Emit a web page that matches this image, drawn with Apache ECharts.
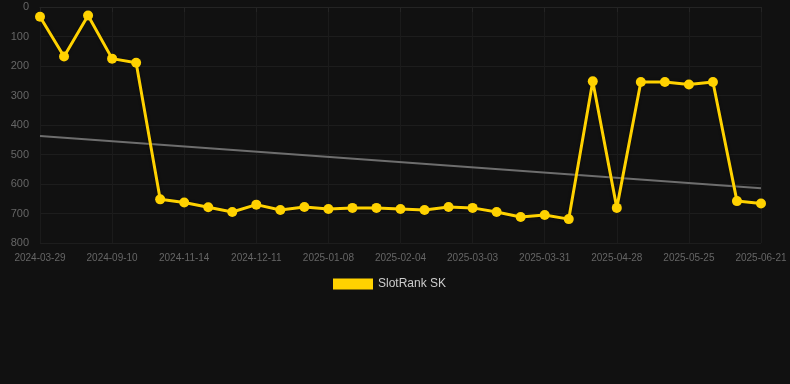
<!DOCTYPE html>
<html>
<head>
<meta charset="utf-8">
<script src="https://cdn.jsdelivr.net/npm/echarts@6/dist/echarts.min.js"></script>
<style>
  html, body { margin: 0; padding: 0; background: #111111; }
  #chart { width: 790px; height: 384px; }
</style>
</head>
<body>
<div id="chart"></div>
<script>
const dates = [
  '2024-03-29', '2024-05-24', '2024-07-18', '2024-09-10', '2024-10-02', '2024-10-23',
  '2024-11-14', '2024-11-23', '2024-12-02', '2024-12-11', '2024-12-20', '2024-12-30',
  '2025-01-08', '2025-01-17', '2025-01-26', '2025-02-04', '2025-02-13', '2025-02-22',
  '2025-03-03', '2025-03-12', '2025-03-21', '2025-03-31', '2025-04-09', '2025-04-19',
  '2025-04-28', '2025-05-07', '2025-05-16', '2025-05-25', '2025-06-03', '2025-06-12',
  '2025-06-21'
]
const ranks = [
  33, 168, 29, 175, 189, 652, 663, 679, 695, 670, 688, 678,
  685, 681, 681, 685, 688, 678, 681, 695, 712, 705, 719, 252,
  681, 254, 254, 263, 254, 658, 666
]
// trend line end points (first and last date)
const trendEnds = [437, 614]
const yTicks = { min: 0, max: 800, interval: 100 }

const chart = echarts.init(document.getElementById('chart'))
chart.setOption({
  backgroundColor: '#111111',
  animation: false,
  grid: { left: 40, right: 29, top: 7, bottom: 141 },
  legend: {
    data: ['SlotRank SK'],
    top: 273,
    left: 328,
    icon: 'rect',
    itemWidth: 40,
    itemHeight: 11,
    textStyle: { color: '#cccccc', fontSize: 12, fontFamily: 'Arial, Liberation Sans, sans-serif' }
  },
  xAxis: {
    type: 'category',
    data: dates,
    boundaryGap: false,
    axisLine: { lineStyle: { color: '#242424' } },
    axisTick: { show: true, interval: 2, length: 5, lineStyle: { color: '#242424' } },
    axisLabel: {
      interval: 2,
      color: '#666666',
      fontSize: 10,
      margin: 10,
      fontFamily: 'Arial, Liberation Sans, sans-serif'
    },
    splitLine: { show: true, interval: 2, lineStyle: { color: '#1b1b1b' } }
  },
  yAxis: {
    type: 'value',
    inverse: true,
    min: yTicks.min,
    max: yTicks.max,
    interval: yTicks.interval,
    axisLine: { show: false },
    axisTick: { show: false },
    axisLabel: {
      color: '#666666',
      fontSize: 11,
      margin: 11,
      fontFamily: 'Arial, Liberation Sans, sans-serif'
    },
    splitLine: { lineStyle: { color: '#1d1d1d' } }
  },
  series: [
    {
      name: 'trend',
      type: 'line',
      data: [[dates[0], trendEnds[0]], [dates[dates.length - 1], trendEnds[1]]],
      symbol: 'none',
      lineStyle: { color: '#6e6e6e', width: 2 },
      silent: true,
      z: 1
    },
    {
      name: 'SlotRank SK',
      type: 'line',
      data: ranks,
      color: '#ffd200',
      symbol: 'circle',
      symbolSize: 10,
      lineStyle: { color: '#ffd200', width: 3, shadowColor: 'rgba(0,0,0,0.5)', shadowBlur: 3 },
      itemStyle: { color: '#ffd200' },
      z: 3
    }
  ]
})
</script>
</body>
</html>
